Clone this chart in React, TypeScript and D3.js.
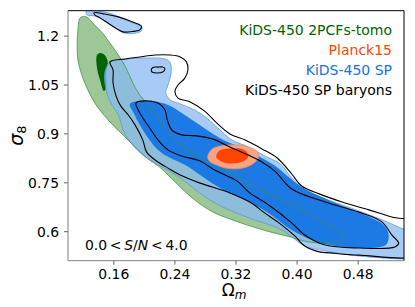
import React from "react";
import * as d3 from "d3";

type Pt = [number, number];

// axis ticks
const xTicks = [0.16, 0.24, 0.32, 0.4, 0.48];
const xTickLabels = ["0.16", "0.24", "0.32", "0.40", "0.48"];
const yTicks = [0.6, 0.75, 0.9, 1.05, 1.2];
const yTickLabels = ["0.6", "0.75", "0.9", "1.05", "1.2"];

// KiDS-450 2PCFs-tomo contours (Omega_m, sigma_8)
const tomoOuter: Pt[] = [
  [0.116, 1.256], [0.124, 1.259], [0.135, 1.234], [0.145, 1.21], [0.152, 1.188], [0.166, 1.142],
  [0.176, 1.102], [0.185, 1.056], [0.194, 1.019], [0.205, 0.989], [0.214, 0.961], [0.227, 0.918],
  [0.247, 0.866], [0.273, 0.829], [0.306, 0.789], [0.338, 0.746], [0.393, 0.682], [0.43, 0.636],
  [0.455, 0.599], [0.461, 0.587], [0.456, 0.571], [0.437, 0.564], [0.41, 0.571], [0.391, 0.584],
  [0.365, 0.599], [0.334, 0.621], [0.312, 0.639], [0.29, 0.66], [0.266, 0.697], [0.247, 0.737],
  [0.231, 0.774], [0.218, 0.802], [0.205, 0.823], [0.188, 0.86], [0.172, 0.897], [0.16, 0.924],
  [0.147, 0.958], [0.135, 0.995], [0.126, 1.035], [0.118, 1.081], [0.113, 1.127], [0.112, 1.173],
  [0.113, 1.219],
];
const tomoInner: Pt[] = [
  [0.138, 1.142], [0.142, 1.148], [0.148, 1.142], [0.152, 1.121], [0.15, 1.087], [0.15, 1.041],
  [0.147, 1.032], [0.142, 1.065], [0.138, 1.102],
];

// KiDS-450 SP contours
const spLight: Pt[] = [
  [0.155, 1.121], [0.162, 1.127], [0.175, 1.13], [0.205, 1.133], [0.227, 1.13], [0.234, 1.118],
  [0.235, 1.087], [0.231, 1.05], [0.228, 1.026], [0.234, 1.004], [0.247, 0.992], [0.266, 0.973],
  [0.283, 0.946], [0.299, 0.912], [0.315, 0.881], [0.336, 0.86], [0.358, 0.832], [0.378, 0.808],
  [0.393, 0.765], [0.41, 0.728], [0.437, 0.7], [0.463, 0.679], [0.492, 0.654], [0.518, 0.63],
  [0.54, 0.608], [0.56, 0.6], [0.56, 0.516], [0.54, 0.516], [0.482, 0.525], [0.437, 0.541],
  [0.41, 0.556], [0.393, 0.584], [0.378, 0.608], [0.334, 0.645], [0.29, 0.691], [0.247, 0.765],
  [0.231, 0.789], [0.198, 0.835], [0.175, 0.897], [0.166, 0.958], [0.156, 0.995], [0.15, 1.035],
  [0.148, 1.087],
];
const spIsland: Pt[] = [
  [0.124, 1.277], [0.139, 1.277], [0.158, 1.268], [0.175, 1.249], [0.189, 1.237], [0.197, 1.228],
  [0.196, 1.216], [0.185, 1.208], [0.173, 1.21], [0.16, 1.228], [0.147, 1.249], [0.134, 1.262],
  [0.125, 1.265],
];
const spDark: Pt[] = [
  [0.181, 0.992], [0.197, 1.001], [0.218, 0.998], [0.234, 0.986], [0.249, 0.964], [0.266, 0.937],
  [0.286, 0.906], [0.306, 0.878], [0.325, 0.86], [0.349, 0.832], [0.371, 0.802], [0.404, 0.74],
  [0.447, 0.691], [0.492, 0.648], [0.513, 0.621], [0.52, 0.59], [0.516, 0.559], [0.481, 0.55],
  [0.437, 0.562], [0.41, 0.584], [0.393, 0.605], [0.361, 0.66], [0.334, 0.694], [0.299, 0.734],
  [0.273, 0.774], [0.253, 0.805], [0.234, 0.826], [0.218, 0.851], [0.205, 0.887], [0.194, 0.927],
  [0.186, 0.964],
];

// KiDS-450 SP baryons contours
const barOuter: Pt[] = [
  [0.155, 1.121], [0.175, 1.13], [0.194, 1.136], [0.214, 1.142], [0.234, 1.142], [0.247, 1.136],
  [0.255, 1.121], [0.257, 1.096], [0.253, 1.071], [0.244, 1.05], [0.24, 1.029], [0.244, 1.01],
  [0.26, 0.998], [0.279, 0.97], [0.295, 0.933], [0.312, 0.9], [0.332, 0.881], [0.354, 0.854],
  [0.374, 0.826], [0.393, 0.777], [0.406, 0.74], [0.429, 0.716], [0.459, 0.691], [0.494, 0.667],
  [0.524, 0.645], [0.56, 0.625], [0.56, 0.532], [0.481, 0.528], [0.443, 0.535], [0.429, 0.538],
  [0.41, 0.556], [0.397, 0.587], [0.378, 0.624], [0.358, 0.657], [0.338, 0.691], [0.312, 0.719],
  [0.273, 0.749], [0.247, 0.774], [0.231, 0.795], [0.214, 0.82], [0.203, 0.844], [0.198, 0.881],
  [0.188, 0.927], [0.179, 0.958], [0.169, 0.986], [0.163, 1.016], [0.159, 1.056], [0.159, 1.096],
];
const barIsland: Pt[] = [
  [0.134, 1.272], [0.148, 1.268], [0.166, 1.259], [0.185, 1.243], [0.196, 1.231], [0.194, 1.219],
  [0.184, 1.214], [0.172, 1.213], [0.158, 1.231], [0.142, 1.256], [0.135, 1.265],
];
const barLoop: Pt[] = [
  [0.209, 1.096], [0.211, 1.104], [0.218, 1.105], [0.224, 1.105], [0.227, 1.099], [0.224, 1.09],
  [0.217, 1.087], [0.21, 1.09],
];
const barInner: Pt[] = [
  [0.189, 0.995], [0.205, 1.001], [0.22, 0.992], [0.227, 0.973], [0.23, 0.943], [0.236, 0.912],
  [0.249, 0.897], [0.268, 0.894], [0.29, 0.884], [0.312, 0.86], [0.336, 0.835], [0.354, 0.814],
  [0.371, 0.786], [0.393, 0.731], [0.437, 0.691], [0.481, 0.66], [0.511, 0.63], [0.524, 0.59],
  [0.533, 0.565], [0.528, 0.553], [0.481, 0.55], [0.437, 0.559], [0.41, 0.59], [0.393, 0.627],
  [0.361, 0.685], [0.338, 0.719], [0.321, 0.756], [0.292, 0.789], [0.273, 0.817], [0.249, 0.832],
  [0.231, 0.851], [0.218, 0.881], [0.207, 0.918], [0.198, 0.949], [0.192, 0.973],
];

// Planck15
const planckOuter: Pt[] = [
  [0.283, 0.832], [0.289, 0.854], [0.302, 0.864], [0.319, 0.866], [0.336, 0.86], [0.348, 0.845],
  [0.349, 0.826], [0.342, 0.808], [0.328, 0.795], [0.31, 0.794], [0.294, 0.805], [0.285, 0.817],
];
const planckInner: Pt[] = [
  [0.294, 0.829], [0.298, 0.848], [0.31, 0.855], [0.325, 0.855], [0.334, 0.845], [0.336, 0.829],
  [0.329, 0.815], [0.315, 0.809], [0.302, 0.814],
];

const legendItems = [
  { label: "KiDS-450 2PCFs-tomo", color: "#006400" },
  { label: "Planck15", color: "#ff4500" },
  { label: "KiDS-450 SP", color: "#1273e6" },
  { label: "KiDS-450 SP baryons", color: "#000000" },
];

const W = 415;
const H = 307;
const left = 68;
const right = 404;
const top = 10.7;
const bottom = 260.7;
const font = "DejaVu Sans, sans-serif";

export default function App() {
  const x = d3.scaleLinear().domain([0.1, 0.54]).range([left, right]);
  const y = d3.scaleLinear().domain([0.511, 1.278]).range([bottom, top]);
  const line = d3
    .line<Pt>()
    .x((d) => x(d[0]))
    .y((d) => y(d[1]))
    .curve(d3.curveCatmullRomClosed.alpha(0.5));
  const p = (pts: Pt[]) => line(pts) || "";

  return (
    <svg
      width={W}
      height={H}
      style={{ position: "absolute", left: 0, top: 0, background: "#fff" }}
      fontFamily={font}
    >
      <defs>
        <clipPath id="plot">
          <rect x={left} y={top} width={right - left} height={bottom - top} />
        </clipPath>
      </defs>
      <g clipPath="url(#plot)">
        <path d={p(tomoOuter)} fill="#9dc797" />
        <path d={p(tomoInner)} fill="#006400" />
        <g fill="#89b9f0" fillOpacity={0.75} stroke="#4d94ea" strokeWidth={0.7}>
          <path d={p(spLight)} />
          <path d={p(spIsland)} />
        </g>
        <path d={p(spDark)} fill="#1273e3" fillOpacity={0.93} />
        <path d={p(tomoOuter)} fill="none" stroke="#3f8f3f" strokeWidth={0.9} strokeOpacity={0.85} />
        <path d={p(planckOuter)} fill="#f7a384" stroke="#f58a66" strokeWidth={0.8} />
        <path d={p(planckInner)} fill="#ff4500" />
        <g fill="none" stroke="#000" strokeWidth={1.1}>
          <path d={p(barOuter)} />
          <path d={p(barIsland)} />
          <path d={p(barLoop)} />
          <path d={p(barInner)} />
        </g>
      </g>

      {/* frame */}
      <line x1={left} x2={right} y1={top} y2={top} stroke="#000" strokeWidth={1} />
      <line x1={right} x2={right} y1={top} y2={bottom} stroke="#000" strokeWidth={1} />
      <line x1={left} x2={left} y1={top} y2={bottom} stroke="#808080" strokeWidth={1} />
      <line x1={left} x2={right} y1={bottom} y2={bottom} stroke="#808080" strokeWidth={1} />

      {xTicks.map((t, i) => (
        <g key={"x" + i}>
          <line x1={x(t)} x2={x(t)} y1={bottom} y2={bottom + 4} stroke="#555" strokeWidth={0.9} />
          <text x={x(t)} y={bottom + 18.5} fontSize={13.9} textAnchor="middle">
            {xTickLabels[i]}
          </text>
        </g>
      ))}
      {yTicks.map((t, i) => (
        <g key={"y" + i}>
          <line x1={left - 4} x2={left} y1={y(t)} y2={y(t)} stroke="#555" strokeWidth={0.9} />
          <text x={left - 9} y={y(t) + 5} fontSize={13.9} textAnchor="end">
            {yTickLabels[i]}
          </text>
        </g>
      ))}

      {/* axis labels */}
      <text x={(left + right) / 2 - 2} y={296} fontSize={17} textAnchor="middle">
        Ω<tspan fontSize={12} fontStyle="italic" dy={2.5}>m</tspan>
      </text>
      <text transform={`translate(23,${(top + bottom) / 2}) rotate(-90)`} fontSize={19} textAnchor="middle">
        <tspan fontStyle="italic">σ</tspan>
        <tspan fontSize={13} dy={3}>8</tspan>
      </text>

      {/* legend */}
      {legendItems.map((d, i) => (
        <text key={d.label} x={392} y={35 + i * 20} fontSize={14} textAnchor="end" fill={d.color}>
          {d.label}
        </text>
      ))}

      <text x={85} y={250} fontSize={13.9}>
        0.0{"\u2009<\u2009"}
        <tspan fontStyle="italic">S</tspan>/<tspan fontStyle="italic">N</tspan>
        {"\u2009<\u2009"}4.0
      </text>
    </svg>
  );
}
